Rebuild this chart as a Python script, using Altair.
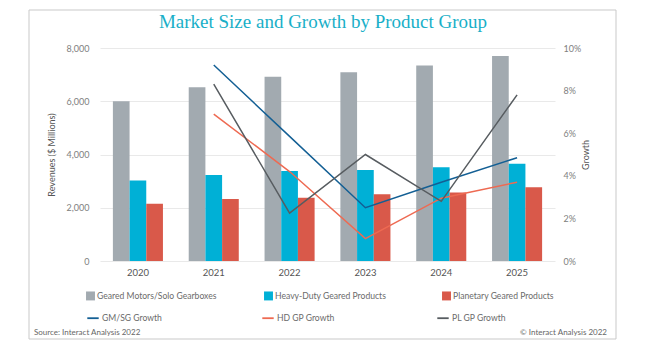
import altair as alt
import pandas as pd

years = ["2020", "2021", "2022", "2023", "2024", "2025"]
bar_series = ["Geared Motors/Solo Gearboxes", "Heavy-Duty Geared Products", "Planetary Geared Products"]
gm_rev = [6000, 6530, 6920, 7090, 7340, 7700]
hd_rev = [3020, 3230, 3380, 3420, 3520, 3650]
pl_rev = [2150, 2330, 2380, 2510, 2570, 2770]

growth_years = ["2021", "2022", "2023", "2024", "2025"]
line_series = ["GM/SG Growth", "HD GP Growth", "PL GP Growth"]
gm_growth = [0.092, 0.0585, 0.025, 0.037, 0.0485]
hd_growth = [0.069, 0.042, 0.0105, 0.0295, 0.037]
pl_growth = [0.083, 0.0225, 0.050, 0.028, 0.078]

title_text = "Market Size and Growth by Product Group"
source_text = "Source: Interact Analysis 2022"
copyright_text = "© Interact Analysis 2022"

bar_colors = ["#A2AAB0", "#00B0D6", "#D9594A"]
line_colors = ["#135F94", "#EE6A52", "#575C60"]

FONT = "Lato"
GRAY = "#6b6b6b"

bars = pd.DataFrame(
    [{"year": y, "series": s, "rev": v}
     for s, vals in zip(bar_series, [gm_rev, hd_rev, pl_rev])
     for y, v in zip(years, vals)]
)
lines = pd.DataFrame(
    [{"year": y, "series": s, "growth": v}
     for s, vals in zip(line_series, [gm_growth, hd_growth, pl_growth])
     for y, v in zip(growth_years, vals)]
)

xscale = alt.Scale(domain=years, paddingInner=0.34, paddingOuter=0.17)
xaxis = alt.Axis(title=None, labelFont=FONT, labelFontSize=9.5, labelColor="#555",
                 labelAngle=0, ticks=False, domain=False, labelPadding=6, grid=False)

bar_layer = alt.Chart(bars).mark_bar().encode(
    x=alt.X("year:N", scale=xscale, axis=xaxis),
    xOffset=alt.XOffset("series:N", sort=bar_series, scale=alt.Scale(paddingInner=0, paddingOuter=0)),
    y=alt.Y("rev:Q", scale=alt.Scale(domain=[0, 8000], nice=False),
            axis=alt.Axis(title="Revenues ($ Millions)", values=[0, 2000, 4000, 6000, 8000],
                          format=",.0f", labelFont=FONT, labelFontSize=9, labelColor="#808080",
                          titleFont=FONT, titleFontSize=9, titleFontWeight="normal",
                          titleColor="#555", titlePadding=10,
                          ticks=False, domain=False, labelPadding=11,
                          grid=True, gridColor="#e9e9e9", gridWidth=1)),
    color=alt.Color("series:N", scale=alt.Scale(domain=bar_series, range=bar_colors),
                    legend=alt.Legend(title=None, orient="none", legendX=-14, legendY=243,
                                      direction="horizontal", columns=3, columnPadding=47,
                                      symbolType="square", symbolSize=80, symbolStrokeWidth=0,
                                      labelFont=FONT, labelFontSize=8.6, labelColor=GRAY,
                                      labelOffset=2, gridAlign="all", labelLimit=300)),
)

line_layer = alt.Chart(lines).mark_line(strokeWidth=1.5).encode(
    x=alt.X("year:N", scale=xscale, axis=xaxis),
    y=alt.Y("growth:Q", scale=alt.Scale(domain=[0, 0.1], nice=False),
            axis=alt.Axis(title="Growth", orient="right", values=[0, 0.02, 0.04, 0.06, 0.08, 0.1],
                          format=".0%", labelFont=FONT, labelFontSize=9, labelColor="#808080",
                          titleFont=FONT, titleFontSize=9, titleFontWeight="normal",
                          titleColor="#555", titleAngle=270, titlePadding=10,
                          ticks=False, domain=False, labelPadding=8, grid=False)),
    stroke=alt.Stroke("series:N", scale=alt.Scale(domain=line_series, range=line_colors),
                      legend=alt.Legend(title=None, orient="none", legendX=-14, legendY=263,
                                        direction="horizontal", columns=3, columnPadding=96,
                                        symbolType="stroke", symbolSize=130, symbolStrokeWidth=1.8,
                                        labelFont=FONT, labelFontSize=8.6, labelColor=GRAY,
                                        labelOffset=2, gridAlign="all", labelLimit=300)),
)

title_df = pd.DataFrame({"txt": [title_text]})
title = alt.Chart(title_df).mark_text(align="center", baseline="middle", font="Liberation Serif",
                                      fontSize=19, color="#19AFC8").encode(
    x=alt.value(223), y=alt.value(-26), text="txt:N")

src_df = pd.DataFrame({"txt": [source_text]})
source = alt.Chart(src_df).mark_text(align="left", baseline="middle", font=FONT,
                                     fontSize=8, color="#666").encode(
    x=alt.value(-66), y=alt.value(285), text="txt:N")
cp_df = pd.DataFrame({"txt": [copyright_text]})
copyright_ = alt.Chart(cp_df).mark_text(align="right", baseline="middle", font=FONT,
                                        fontSize=8, color="#666").encode(
    x=alt.value(507), y=alt.value(285), text="txt:N")
frame = alt.Chart(src_df).mark_rect(fill=None, stroke="#c9c9c9", strokeWidth=1).encode(
    x=alt.value(-71), x2=alt.value(516), y=alt.value(-38), y2=alt.value(291))

chart = alt.layer(frame, title, bar_layer, line_layer, source, copyright_).resolve_scale(
    y="independent", color="independent"
).properties(
    width=455, height=213,
    autosize=alt.AutoSizeParams(type="none"),
    padding={"left": 100, "top": 48, "right": 90, "bottom": 89},
).configure_view(stroke=None)

chart.save("out.html", embed_options={"renderer": "svg", "actions": False})
